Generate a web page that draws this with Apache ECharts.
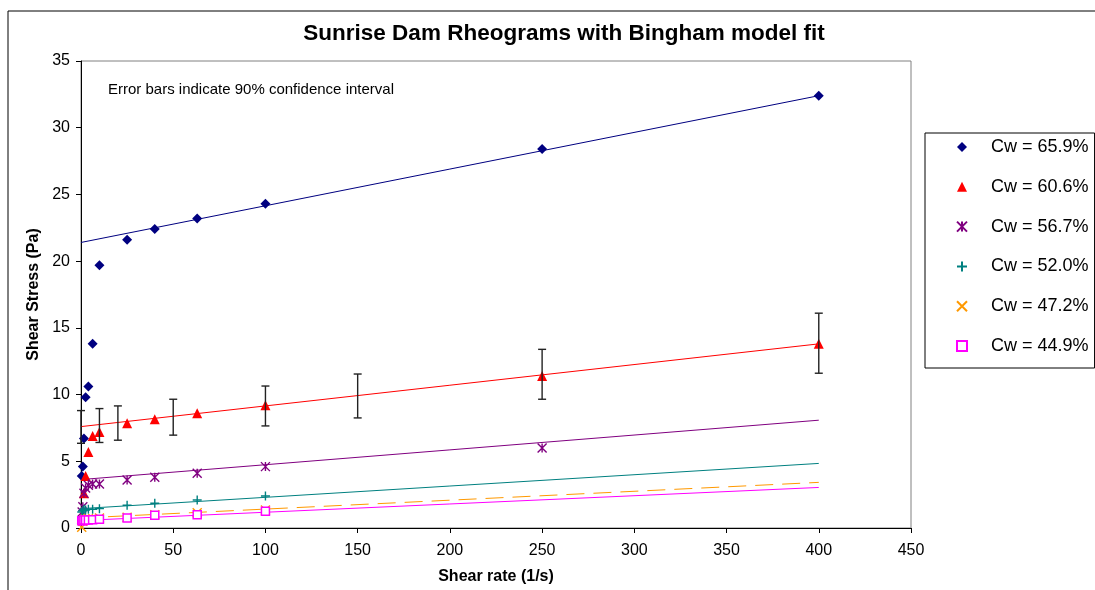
<!DOCTYPE html>
<html>
<head>
<meta charset="utf-8">
<script src="https://cdn.jsdelivr.net/npm/echarts@6/dist/echarts.min.js"></script>
<style>
  html, body { margin: 0; padding: 0; background: #fff; }
  #main { width: 1095px; height: 590px; }
</style>
</head>
<body>
<div id="main"></div>
<script>
// measured data (shear rate 1/s, shear stress Pa)
var names = ['Cw = 65.9%', 'Cw = 60.6%', 'Cw = 56.7%', 'Cw = 52.0%', 'Cw = 47.2%', 'Cw = 44.9%'];
var colors = ['#000080', '#FF0000', '#800080', '#008080', '#FF9900', '#FF00FF'];

var rate659 = [0.4, 1, 1.6, 2.5, 4, 6.3, 10, 25, 40, 63, 100, 250, 400];
var stress659 = [3.9, 4.6, 6.7, 9.8, 10.6, 13.8, 19.7, 21.6, 22.4, 23.2, 24.3, 28.4, 32.4];

var rate606 = [1.6, 2.5, 4, 6.3, 10, 25, 40, 63, 100, 250, 400];
var stress606 = [2.6, 3.9, 5.7, 6.9, 7.2, 7.85, 8.15, 8.6, 9.2, 11.4, 13.8];

var rate567 = [0.63, 1, 1.6, 2.5, 4, 6.3, 10, 25, 40, 63, 100, 250];
var stress567 = [1.2, 1.6, 2.6, 3.0, 3.2, 3.3, 3.3, 3.6, 3.8, 4.1, 4.6, 6.0];

var rate520 = [0.4, 1, 1.6, 2.5, 4, 6.3, 10, 25, 40, 63, 100];
var stress520 = [1.2, 1.3, 1.4, 1.35, 1.4, 1.4, 1.45, 1.7, 1.85, 2.1, 2.4];

var rate472 = [0.4, 1, 1.6, 2.5, 4, 6.3, 10, 25, 40, 63, 100];
var stress472 = [0.05, 0.5, 0.6, 0.65, 0.7, 0.7, 0.75, 0.8, 1.0, 1.15, 1.35];

var rate449 = [0.4, 1, 1.6, 2.5, 4, 6.3, 10, 25, 40, 63, 100];
var stress449 = [0.55, 0.55, 0.6, 0.6, 0.6, 0.62, 0.65, 0.75, 0.95, 1.0, 1.25];

// Bingham fit lines: [rate, stress] end points
var fit659 = [[0, 21.4], [400, 32.4]];
var fit606 = [[0, 7.6], [400, 13.8]];
var fit567 = [[0, 3.63], [400, 8.08]];
var fit520 = [[0, 1.45], [400, 4.84]];
var fit472 = [[0, 0.75], [400, 3.42]];
var fit449 = [[0, 0.56], [400, 3.04]];

// 90% confidence interval on the Cw = 60.6% fit
var errRate = [0, 10, 20, 50, 100, 150, 250, 400];
var errLow = [6.35, 6.41, 6.58, 6.96, 7.65, 8.25, 9.65, 11.6];
var errHigh = [8.8, 8.95, 9.15, 9.65, 10.64, 11.54, 13.39, 16.1];

var xTicks = [0, 50, 100, 150, 200, 250, 300, 350, 400, 450];
var yTicks = [0, 5, 10, 15, 20, 25, 30, 35];

var font = 'Liberation Sans, Arial, sans-serif';
var chartDom = document.getElementById('main');
var myChart = echarts.init(chartDom);

function pairs(xs, ys) {
  return xs.map(function (x, i) { return [x, ys[i]]; });
}

var rates = [rate659, rate606, rate567, rate520, rate472, rate449];
var stresses = [stress659, stress606, stress567, stress520, stress472, stress449];
var fits = [fit659, fit606, fit567, fit520, fit472, fit449];

var symbols = [
  'diamond',
  'triangle',
  'path://M0,0L10,10M10,0L0,10M5,0L5,10',
  'path://M5,0L5,10M0,5L10,5',
  'path://M0,0L10,10M10,0L0,10',
  'rect'
];
var symbolSizes = [10, 10, 9, 9, 9, 8];

var series = [];
// fit lines first so markers sit on top
for (var i = 0; i < 6; i++) {
  series.push({
    name: 'fit' + i,
    type: 'line',
    data: fits[i],
    showSymbol: false,
    silent: true,
    lineStyle: { color: colors[i], width: 1, type: i === 4 ? [18, 9] : 'solid' },
    z: 2
  });
}
for (var j = 0; j < 6; j++) {
  var st = { color: colors[j], opacity: 1 };
  if (j === 2 || j === 3 || j === 4) {
    st = { color: 'rgba(0,0,0,0)', borderColor: colors[j], borderWidth: 1.4, opacity: 1 };
  } else if (j === 5) {
    st = { color: '#ffffff', borderColor: colors[j], borderWidth: 1.5, opacity: 1 };
  }
  series.push({
    name: names[j],
    type: 'scatter',
    data: pairs(rates[j], stresses[j]),
    symbol: symbols[j],
    symbolSize: symbolSizes[j],
    itemStyle: st,
    z: 3
  });
}
series.push({
  name: 'errors',
  type: 'custom',
  silent: true,
  z: 4,
  encode: { x: 0, y: [1, 2] },
  data: errRate.map(function (x, i) { return [x, errLow[i], errHigh[i]]; }),
  renderItem: function (params, api) {
    var lo = api.coord([api.value(0), api.value(1)]);
    var hi = api.coord([api.value(0), api.value(2)]);
    var w = 4;
    var style = { stroke: '#222', lineWidth: 1.4 };
    return {
      type: 'group',
      children: [
        { type: 'line', shape: { x1: lo[0], y1: lo[1], x2: hi[0], y2: hi[1] }, style: style },
        { type: 'line', shape: { x1: lo[0] - w, y1: lo[1], x2: lo[0] + w, y2: lo[1] }, style: style },
        { type: 'line', shape: { x1: hi[0] - w, y1: hi[1], x2: hi[0] + w, y2: hi[1] }, style: style }
      ]
    };
  }
});

var option = {
  backgroundColor: '#ffffff',
  animation: false,
  textStyle: { fontFamily: font },
  title: {
    text: 'Sunrise Dam Rheograms with Bingham model fit',
    left: 559,
    top: 17,
    textAlign: 'center',
    textStyle: { fontFamily: font, fontSize: 22.5, fontWeight: 'bold', color: '#000' }
  },
  graphic: [
    {
      type: 'rect',
      shape: { x: 8, y: 11, width: 1200, height: 700 },
      style: { fill: 'none', stroke: '#000', lineWidth: 1 },
      silent: true
    },
    {
      type: 'text',
      left: 108,
      top: 82,
      style: { text: 'Error bars indicate 90% confidence interval', font: '15px ' + font, fill: '#000' }
    }
  ],
  legend: {
    data: names,
    orient: 'vertical',
    left: 925,
    top: 133,
    padding: [5, 6, 13, 31],
    itemWidth: 10,
    itemHeight: 10,
    itemGap: 21.8,
    borderColor: '#000',
    borderWidth: 1,
    textStyle: { fontFamily: font, fontSize: 18, color: '#000', lineHeight: 18, padding: [0, 0, 0, 19] }
  },
  grid: {
    left: 81,
    top: 61,
    right: 184,
    bottom: 61,
    show: true,
    borderColor: '#808080',
    borderWidth: 1
  },
  xAxis: {
    type: 'value',
    min: xTicks[0],
    max: xTicks[xTicks.length - 1],
    interval: 50,
    name: 'Shear rate (1/s)',
    nameLocation: 'middle',
    nameGap: 41,
    nameTextStyle: { fontFamily: font, fontSize: 16, fontWeight: 'bold', color: '#000' },
    axisLine: { lineStyle: { color: '#000', width: 1 } },
    axisTick: { length: 5, lineStyle: { color: '#000' } },
    axisLabel: { fontFamily: font, fontSize: 16, color: '#000', margin: 15 },
    splitLine: { show: false }
  },
  yAxis: {
    type: 'value',
    min: yTicks[0],
    max: yTicks[yTicks.length - 1],
    interval: 5,
    name: 'Shear Stress (Pa)',
    nameLocation: 'middle',
    nameRotate: 90,
    nameGap: 38,
    nameTextStyle: { fontFamily: font, fontSize: 16, fontWeight: 'bold', color: '#000' },
    axisLine: { show: true, lineStyle: { color: '#000', width: 1 } },
    axisTick: { show: true, length: 5, lineStyle: { color: '#000' } },
    axisLabel: { fontFamily: font, fontSize: 16, color: '#000', margin: 11 },
    splitLine: { show: false }
  },
  series: series
};

option && myChart.setOption(option);
window.addEventListener('resize', function () {
  myChart.resize();
});
</script>
</body>
</html>
